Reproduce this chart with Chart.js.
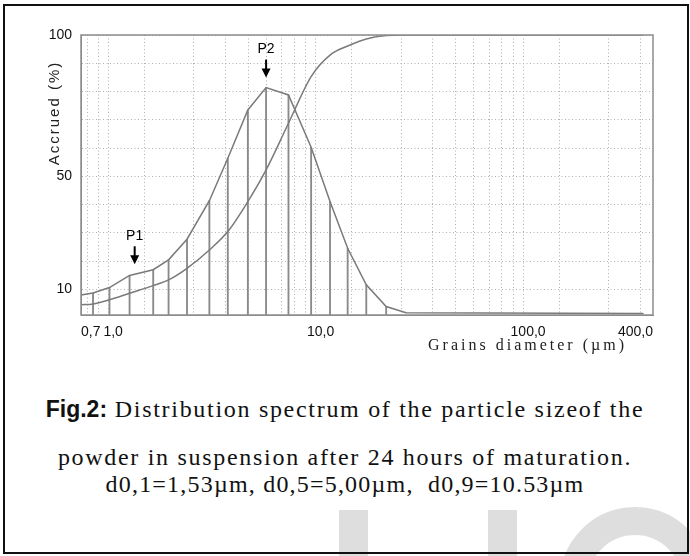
<!DOCTYPE html>
<html lang="en">
<head>
  <meta charset="UTF-8">
  <title>Particle size distribution</title>
  <script src="https://cdn.jsdelivr.net/npm/chart.js"></script>
  <style>
    body {
      margin: 0;
      background: #fff;
      width: 690px;
      height: 556px;
      position: relative;
      overflow: hidden;
    }
    .frame {
      position: absolute;
      left: 3px;
      top: 4px;
      width: 682px;
      height: 546px;
      border: 2px solid #111;
      overflow: hidden;
    }
    .chart-box {
      position: absolute;
      left: 0;
      top: 0;
      width: 690px;
      height: 360px;
    }
    .caption {
      position: absolute;
      left: 0;
      width: 690px;
      text-align: center;
      font-family: "Liberation Serif", "Times New Roman", serif;
      font-size: 24px;
      letter-spacing: 1.7px;
      color: #111;
      white-space: nowrap;
    }
    .caption b {
      font-family: "Liberation Sans", Arial, sans-serif;
      font-size: 23px;
      letter-spacing: 0;
    }
    .mark {
      position: absolute;
      background: #dedede;
    }
    .ring {
      position: absolute;
      border: 28px solid #dedede;
      border-radius: 50%;
    }
  </style>
</head>
<body>
  <div class="mark" style="left:339px; top:510px; width:29px; height:60px;"></div>
  <div class="mark" style="left:488px; top:510px; width:29px; height:60px;"></div>
  <div class="ring" style="left:560px; top:507px; width:94px; height:94px;"></div>
  <div class="frame"></div>

  <div class="chart-box">
    <canvas id="psd"></canvas>
  </div>

  <div class="caption" style="top:396px;"><b>Fig.2:</b> Distribution spectrum of the particle sizeof the</div>
  <div class="caption" style="top:444px;">powder in suspension after 24 hours of maturation.</div>
  <div class="caption" style="top:471px; letter-spacing:1.2px;">d0,1=1,53µm, d0,5=5,00µm,&nbsp; d0,9=10.53µm</div>

  <script>
    // values
    const diameters = [0.7, 0.80, 0.96, 1.20, 1.56, 1.85, 2.27, 2.91, 3.57, 4.46, 5.46, 7.0, 9.0, 11.1, 13.5, 16.6, 20.7, 25.8, 360];
    const frequency = [8.1, 8.8, 10.7, 15.0, 17.0, 20.5, 27.8, 41.4, 56.4, 73.5, 81.4, 78.8, 60.3, 41.1, 24.6, 11.7, 4.0, 1.8, 1.5];
    const accrued = [4.6, 4.9, 6.4, 8.7, 11.4, 13.4, 17.5, 24.0, 30.5, 41.1, 52.3, 68.8, 85.3, 92.9, 96.1, 98.6, 99.8, 100, 100];

    const xTickLabels = [0.7, 1, 10, 100, 400];
    const yTickLabels = [10, 50, 100];

    const peakLabels = ['P1', 'P2'];
    const peakDiameters = [1.27, 5.46];
    const peakValues = [15.4, 81.4];

    const freqPoints = diameters.map((d, i) => ({ x: d, y: frequency[i] }));
    const accruedPoints = diameters.map((d, i) => ({ x: d, y: accrued[i] }));
    // vertical lines under the measured classes
    const dropLines = freqPoints.slice(1, 17);

    const sans = '"Liberation Sans", Arial, sans-serif';

    // frame, P1/P2 arrows and axis titles
    const extras = {
      id: 'extras',
      afterDatasetsDraw(chart) {
        const { ctx, chartArea: a, scales: { x, y } } = chart;
        ctx.save();
        ctx.strokeStyle = '#8c8c8c';
        ctx.lineWidth = 1.5;
        ctx.strokeRect(a.left, a.top, a.right - a.left, a.bottom - a.top);

        ctx.fillStyle = '#000';
        ctx.strokeStyle = '#000';
        peakLabels.forEach((lab, i) => {
          const px = x.getPixelForValue(peakDiameters[i]);
          const tip = y.getPixelForValue(peakValues[i]) - 10;
          ctx.lineWidth = 2;
          ctx.beginPath();
          ctx.moveTo(px, tip - 18);
          ctx.lineTo(px, tip - 7);
          ctx.stroke();
          ctx.beginPath();
          ctx.moveTo(px - 4.5, tip - 9);
          ctx.lineTo(px + 4.5, tip - 9);
          ctx.lineTo(px, tip);
          ctx.closePath();
          ctx.fill();
          ctx.font = '14px ' + sans;
          ctx.textAlign = 'center';
          ctx.textBaseline = 'middle';
          ctx.fillText(lab, px, tip - 28);
        });

        ctx.fillStyle = '#222';
        ctx.letterSpacing = '2px';
        ctx.font = '15px ' + sans;
        ctx.save();
        ctx.translate(a.left - 26, a.top + 78);
        ctx.rotate(-Math.PI / 2);
        ctx.textAlign = 'center';
        ctx.fillText('Accrued (%)', 0, 0);
        ctx.restore();

        ctx.letterSpacing = '3px';
        ctx.font = '16px "Liberation Serif", "Times New Roman", serif';
        ctx.textAlign = 'right';
        ctx.textBaseline = 'middle';
        ctx.fillText('Grains diameter (µm)', a.right - 26, a.bottom + 31);
        ctx.restore();
      }
    };

    new Chart(document.getElementById('psd'), {
      type: 'line',
      data: {
        datasets: [
          {
            label: 'Frequency',
            data: freqPoints,
            borderColor: '#7a7a7a',
            borderWidth: 1.5,
            pointRadius: 0,
            tension: 0,
            order: 1
          },
          {
            label: 'Accrued',
            data: accruedPoints,
            borderColor: '#7a7a7a',
            borderWidth: 1.5,
            pointRadius: 0,
            cubicInterpolationMode: 'monotone',
            order: 1
          },
          {
            type: 'bar',
            label: 'Classes',
            data: dropLines,
            backgroundColor: '#8a8a8a',
            barThickness: 1.2,
            order: 2
          }
        ]
      },
      options: {
        responsive: true,
        maintainAspectRatio: false,
        animation: false,
        layout: { padding: { top: 35, right: 37, left: 0, bottom: 0 } },
        plugins: {
          legend: { display: false },
          tooltip: { enabled: false }
        },
        scales: {
          x: {
            type: 'logarithmic',
            min: 0.7,
            max: 400,
            afterBuildTicks(axis) {
              const vals = [0.7, 0.8, 0.9];
              [1, 10, 100].forEach(dec => {
                for (let k = 1; k <= 9; k++) vals.push(k * dec);
              });
              axis.ticks = vals.filter(v => v >= 0.7 && v <= 400).map(v => ({ value: v }));
            },
            afterFit(axis) { axis.height = 45; },
            ticks: {
              autoSkip: false,
              maxRotation: 0,
              align: 'inner',
              padding: 9,
              color: '#111',
              font: { family: sans, size: 14 },
              callback: v => xTickLabels.includes(v) ? v.toFixed(1).replace('.', ',') : ''
            },
            grid: { color: '#b0b0b0', drawTicks: false },
            border: { color: '#8c8c8c', dash: [1, 2.5] }
          },
          y: {
            min: 1,
            max: 100,
            afterBuildTicks(axis) {
              const vals = [];
              for (let v = 10; v <= 100; v += 10) vals.push(v);
              axis.ticks = vals.map(v => ({ value: v }));
            },
            afterFit(axis) { axis.width = 81; },
            ticks: {
              padding: 9,
              color: '#111',
              font: { family: sans, size: 14 },
              callback: v => yTickLabels.includes(v) ? String(v) : ''
            },
            grid: { color: '#b0b0b0', drawTicks: false },
            border: { color: '#8c8c8c', dash: [1, 2.5] }
          }
        }
      },
      plugins: [extras]
    });
  </script>
</body>
</html>
